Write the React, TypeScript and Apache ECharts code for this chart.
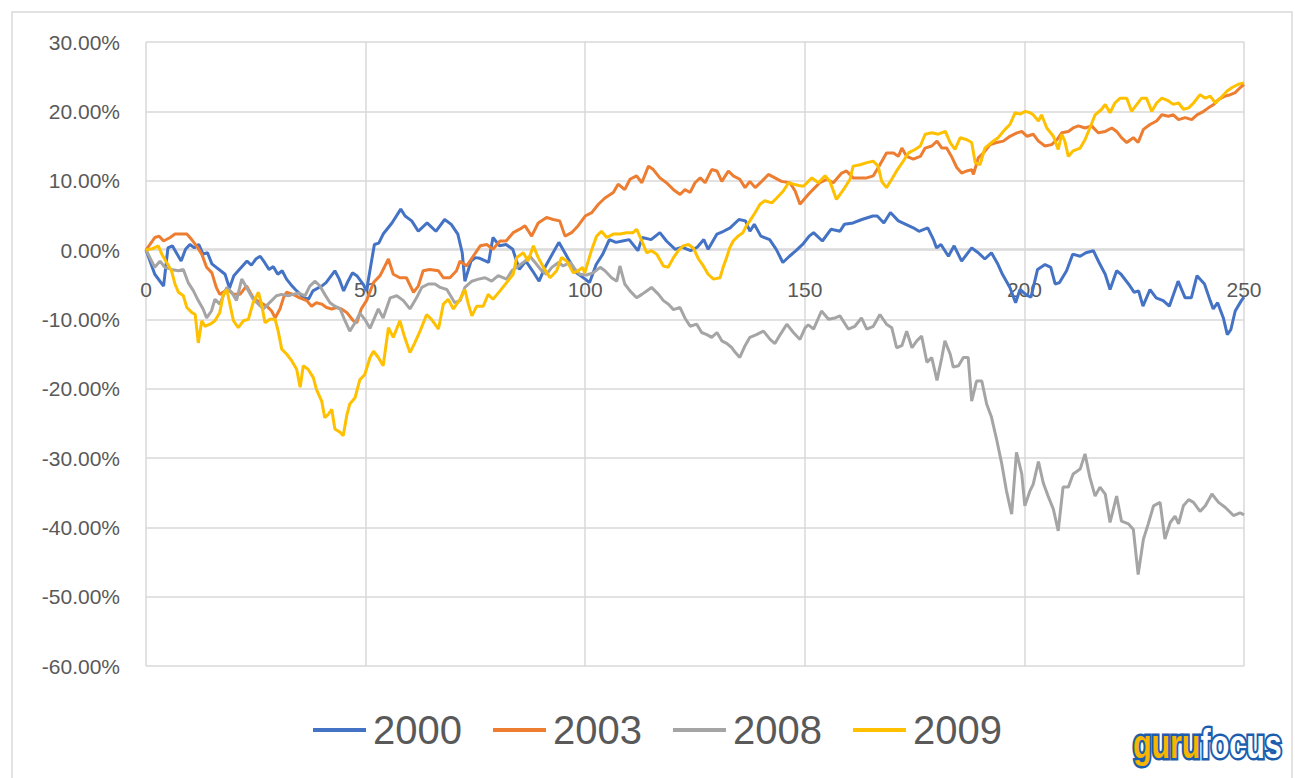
import React, { useEffect, useRef } from "react";
import * as echarts from "echarts";

const seriesNames = ["2000", "2003", "2008", "2009"];
const seriesColors = ["#4472C4", "#ED7D31", "#A5A5A5", "#FFC000"];
const xTicks = [0, 50, 100, 150, 200, 250];
const yTicks = [-60, -50, -40, -30, -20, -10, 0, 10, 20, 30];

const s2000: [number, number][] = [
  [0, 0], [2, -3.5], [4, -5.2], [5, 0.3], [6, 0.6], [8, -1.6], [9, 0.1], [10, 0.8], [11, 0.3], [12, 0.8], [13, -0.6], [14, -0.4],
  [15, -2], [16, -2.5], [17, -3], [18, -3.5], [19, -5.5], [20, -3.7], [21, -3], [23, -1.6], [24, -2.2], [25, -1.3], [26, -0.9],
  [27, -1.8], [28, -2.8], [29, -2.4], [30, -3.5], [31, -3], [32, -4.2], [33, -5], [34, -5.7], [36, -6.9], [37, -7.1], [38, -5.9],
  [40, -5.2], [41, -4.7], [43, -3], [44, -4.2], [45, -5.9], [46, -4.5], [47, -3.3], [48, -3.7], [49.5, -5], [50.2, -5.9],
  [52, 0.8], [53, 1], [54, 2.3], [56, 3.9], [58, 5.9], [59, 4.9], [60.5, 4.2], [62, 2.7], [64, 3.9], [66, 2.7], [68, 4.4],
  [69.5, 3.7], [71, 2.3], [72, -0.4], [72.6, -4.5], [74, -1.6], [75, -1.1], [76, -1.2], [78, -1.8], [79, 1.8], [80.5, 0.6],
  [82, 0.8], [83.5, 0.1], [85, -2.8], [86.5, -1.6], [88, -3], [89.5, -4.5], [91, -2.3], [94, 1.1], [96, -1.1], [98, -3.3],
  [100, -4.2], [101, -4.7], [102.5, -2.1], [104, -0.6], [105.5, 1.5], [107, 1.1], [108.5, 1.3], [110, 1.5], [112, -0.1],
  [113, 1.8], [115, 1.5], [117, 2.5], [118.5, 1.3], [120.5, 0.1], [122, 0.4], [124, -0.1], [125.5, 0.4], [127, 1.5], [128, 0.1],
  [130, 2.3], [131.5, 2.7], [133, 3.2], [135, 4.4], [136.5, 4.2], [137.5, 2.7], [138.5, 3.7], [140, 2], [142, 1.5], [143.5, 0.1],
  [145, -1.8], [146.5, -0.9], [148, -0.1], [149.5, 0.8], [151, 2], [152, 2.5], [154, 1.3], [156, 3], [158, 2.7], [159, 3.7],
  [161, 3.9], [163, 4.4], [165.5, 4.9], [166.5, 4.9], [168, 3.9], [169.5, 5.4], [171.3, 4.2], [173, 3.7], [174.7, 3.2], [176, 2.7],
  [178, 3.2], [179.3, 1.5], [180, 0.3], [181, 0.8], [182.7, -0.9], [184, 0.6], [185.7, -1.6], [188, 0.3], [189.5, -0.4],
  [191, -1.3], [192.5, -0.4], [194, -2.1], [195, -3.5], [196.7, -5.4], [198, -7.6], [199, -5.7], [200.5, -6.5], [201.5, -6.8],
  [203, -2.8], [204.7, -2.1], [206, -2.5], [207, -4.9], [208, -4.7], [209.6, -3], [211, -0.6], [212.7, -0.9], [214, -0.4],
  [215.7, -0.1], [217, -1.8], [218.4, -3.5], [219.5, -5.7], [221, -3], [222, -3.5], [223.7, -4.9], [225, -6.1], [226, -5.9],
  [227, -8.1], [228.6, -5.7], [230, -6.9], [231.6, -7.3], [233, -8.1], [235, -4.5], [236.6, -6.9], [238, -6.9], [239.3, -3.7],
  [241, -4.9], [242.3, -7.3], [243, -8.5], [244, -7.6], [245.3, -9.8], [246.2, -12.2], [247, -11.5], [248, -8.8], [249.4, -7.3],
  [250, -6.8],
];

const s2003: [number, number][] = [
  [0, 0], [2, 1.8], [3, 2], [4, 1.3], [5.5, 1.8], [6.6, 2.3], [8, 2.3], [9.3, 2.3], [10.4, 1.5], [11.5, 0.6], [12.7, -0.6],
  [13.8, -2.5], [15, -3.3], [16, -5.4], [16.8, -6.4], [18, -5.9], [18.7, -5.7], [19.9, -6.4], [21.4, -6.4], [22.9, -5.2],
  [24.4, -6.9], [26, -7.6], [27.5, -8.1], [28.6, -8.8], [29.4, -9.8], [30.5, -8.5], [31.3, -6.9], [32, -6.1], [33.5, -6.4],
  [35, -6.9], [36.6, -7.3], [37.7, -8.1], [38.8, -7.6], [40, -7.8], [41.1, -8.3], [42.3, -8.5], [43.4, -8.3], [44.5, -8.5],
  [45.7, -9], [47.2, -10.2], [48, -10.5], [49, -8.5], [50.2, -7.3], [51.8, -4.7], [53.3, -3.7], [55.2, -1.3], [56.3, -3.5],
  [57.8, -4], [59.3, -4], [60.9, -6.1], [62, -5.2], [63.1, -3], [64.6, -2.8], [66.6, -3], [67.7, -4], [69.2, -4], [70.7, -3],
  [71.5, -1.6], [73, -2.3], [74.5, -0.9], [76.1, 0.6], [77.6, 0.8], [79, 0.1], [80.6, 1.3], [82, 1.3], [83.6, 2.5], [85.1, 3],
  [86.3, 3.5], [87.8, 2], [89.3, 3.9], [91.2, 4.7], [92.7, 4.4], [94.2, 4.2], [95.4, 2], [96.9, 2.5], [98.4, 3.5], [100, 4.9],
  [101.5, 5.4], [103, 6.6], [104.5, 7.5], [106.4, 8.3], [107.5, 9.5], [109, 8.7], [110.2, 10.2], [111.7, 10.7], [112.9, 9.7],
  [114.4, 12.1], [115.5, 11.6], [117, 10.4], [118.5, 9.7], [120.1, 8.7], [121.6, 8], [122.7, 8.7], [123.9, 8.3], [125, 9.7],
  [126.2, 10.4], [127.3, 9.7], [128.8, 11.6], [130, 11.4], [131.1, 9.9], [132.6, 11.4], [133.7, 10.7], [135.2, 10.2],
  [136.4, 9], [137.5, 9.9], [138.7, 9], [140.2, 9.9], [141.7, 10.9], [143.2, 10.4], [144.7, 9.9], [146.6, 9.7], [147.8, 8.5],
  [148.9, 6.6], [150.1, 7.5], [151.2, 8.3], [152.3, 9], [153.4, 9.7], [155, 10.2], [156.5, 9.7], [158.4, 11.1], [159.5, 11.4],
  [161, 10.4], [162.6, 10.4], [164.1, 10.4], [165.6, 10.7], [167.1, 12.3], [168.6, 14], [170.2, 14], [171.3, 13.5],
  [172.1, 14.7], [173.2, 13.5], [174.7, 13.1], [176.3, 13.5], [177.4, 14.7], [178.9, 15], [180.1, 15.7], [181.2, 14.7],
  [182.3, 14.7], [183.4, 13.5], [184.6, 11.9], [185.7, 11.1], [186.9, 11.4], [188, 11.6], [188.4, 10.9], [189.5, 13.3],
  [190.7, 14], [192.2, 15.2], [193.7, 15.5], [195.2, 15.7], [196.7, 16.4], [198.3, 16.9], [199.4, 17.1], [200.6, 16.4],
  [202, 16.7], [203.2, 15.7], [204.7, 15], [206.2, 15.2], [207.4, 15.9], [208.5, 16.9], [210, 17.1], [211.1, 17.6],
  [212.3, 17.9], [213.8, 17.6], [215.3, 17.9], [216.8, 16.9], [218.4, 17.1], [219.9, 17.6], [221, 17.1], [222.1, 16.2],
  [223.3, 15.5], [224.8, 16.2], [225.9, 15.5], [227.1, 17.4], [228.6, 18.1], [230.1, 18.6], [231.3, 19.5], [232.8, 19.3],
  [233.9, 19.5], [235.1, 18.8], [236.6, 19.1], [238.1, 18.8], [239.3, 19.5], [240.8, 20], [241.9, 20.5], [243.1, 21],
  [244.2, 21.7], [245.7, 22.2], [246.9, 22.4], [248, 22.7], [249.1, 23.4], [250, 23.9],
];

const s2008: [number, number][] = [
  [0, 0], [2, -2.5], [3.2, -1.6], [4.3, -2.5], [5.8, -2.8], [7.4, -3], [8.5, -2.8], [9.6, -4.7], [10.8, -5.9], [11.9, -7.3],
  [13, -8.5], [13.8, -9.8], [14.9, -8.8], [15.7, -7.1], [16.8, -7.8], [18.4, -5.4], [19.5, -6.1], [20.6, -7.3], [21.8, -4.2],
  [22.9, -5.4], [24.4, -7.1], [25.6, -7.8], [26.7, -8.5], [27.8, -7.8], [28.6, -7.3], [29.7, -6.6], [30.9, -6.4], [32.4, -6.6],
  [33.5, -6.4], [34.7, -6.2], [36.2, -6.6], [37.3, -5.2], [38.5, -4.5], [39.6, -5.2], [40.7, -6.4], [41.9, -7.6], [43, -8.1],
  [44.2, -8.5], [45.3, -10.2], [46.4, -11.7], [47.6, -10.5], [48.7, -9.1], [49.8, -10], [51, -11.3], [52.9, -8.5], [54, -9.8],
  [55.6, -6.9], [57.1, -6.6], [58.6, -7.3], [60.1, -8.5], [61.6, -6.9], [62.8, -5.4], [64.3, -4.9], [65.8, -4.9], [67, -5.4],
  [68.5, -5.7], [70.3, -7.6], [71.5, -7.3], [72.6, -5.4], [74.2, -4.5], [75.7, -4.2], [77.2, -4], [78.7, -4.5], [80.2, -3.7],
  [82.1, -4.2], [83.3, -3], [84.8, -2.3], [86.3, -1.6], [87.4, -0.9], [88.6, -1.8], [90.1, -3], [91.2, -3.5], [92.4, -2.5],
  [93.9, -1.8], [95, -2.3], [96.6, -1.8], [97.7, -2.8], [98.8, -3.5], [100.3, -3.6], [101.8, -3.3], [103.4, -2.5], [104.5, -3],
  [106, -4], [107.2, -4.5], [107.9, -2.3], [109, -4.9], [110.2, -5.9], [111.7, -6.9], [112.9, -6.4], [114, -5.9], [115.1, -5.4],
  [116.7, -6.4], [117.8, -7.3], [118.9, -7.8], [120.1, -8.6], [121.6, -8.3], [122.7, -9.8], [123.9, -11], [125.4, -10.7],
  [126.5, -11.9], [127.7, -12.2], [128.8, -12.6], [130, -11.9], [131.1, -13.1], [132.3, -13.5], [133.4, -14.1], [134.2, -14.8],
  [135.2, -15.5], [136.4, -13.8], [137.5, -12.6], [139, -12.2], [140.6, -11.7], [142.1, -12.9], [143.2, -13.5], [144.4, -12.2],
  [145.9, -10.7], [147.4, -11.9], [148.9, -12.9], [150.1, -11.2], [150.8, -10.8], [152, -11.4], [153.8, -8.8], [155.4, -10],
  [156.9, -9.8], [158, -9.5], [159.9, -11.4], [161.4, -11], [162.9, -9.8], [164.1, -11.4], [165.6, -11], [167.1, -9.3],
  [168.6, -10.7], [169.8, -11.2], [170.9, -14.1], [172.1, -13.8], [173.2, -11.7], [174.4, -14.1], [175.5, -13.1],
  [176.6, -12.4], [177.8, -16.2], [178.9, -15.5], [180.1, -18.8], [181.2, -15.5], [181.9, -13.1], [183.1, -15], [183.8, -16.9],
  [185, -16.7], [186.1, -15.5], [187.2, -15.5], [188, -21.8], [189.1, -18.9], [190.3, -18.9], [191.4, -22.2], [192.5, -24.1],
  [193.7, -27.4], [194.8, -30.7], [195.9, -34.7], [197.1, -38.1], [198.2, -29.2], [199.4, -32.3], [200.1, -36.9],
  [201.3, -34.7], [202, -33.8], [203.2, -30.5], [204.3, -33.6], [205.4, -35.5], [206.6, -37.4], [207.7, -40.5], [208.8, -34.2],
  [210, -34.2], [211.1, -32.3], [212.7, -31.6], [213.8, -29.4], [214.9, -32.8], [216.1, -35.5], [217.2, -34.2], [218.4, -35.2],
  [219.5, -39.3], [221, -35.5], [222.1, -39.1], [223.7, -39.5], [224.8, -40.3], [225.9, -46.8], [227.1, -41.7], [228.2, -39.5],
  [229.4, -36.9], [230.9, -36.4], [232, -41.7], [233.2, -39.3], [234.3, -38.4], [235.1, -39.5], [236.2, -36.9], [237.4, -36],
  [238.5, -36.4], [240, -37.7], [241.2, -36.9], [242.7, -35.2], [244.2, -36.4], [245.7, -37.1], [247.6, -38.3], [249.1, -37.9],
  [250, -38.2],
];

const s2009: [number, number][] = [
  [0, 0], [1.5, 0.2], [2.8, 0.6], [3.6, -0.6], [4.7, -1.8], [5.8, -3], [6.6, -4.9], [7.4, -6.1], [8.5, -6.6], [9.3, -8.3],
  [10.4, -9], [11.2, -9.3], [11.9, -13.4], [12.7, -10.2], [13.4, -11], [14.6, -10.7], [15.7, -10.2], [16.8, -9], [17.6, -6.4],
  [18.4, -5.7], [19.1, -7.8], [19.9, -10.2], [21, -11.2], [22.2, -10.2], [23.3, -10], [24.4, -7.6], [25.6, -6.1], [26.3, -7.8],
  [27.1, -10.5], [28.2, -10], [29.4, -10], [30.1, -11.7], [30.9, -14.3], [32, -15], [33.2, -16], [34.3, -17.2], [35.1, -19.8],
  [35.8, -16.7], [36.9, -17.2], [38.1, -18.4], [38.8, -20.1], [40, -21.8], [40.7, -24.2], [41.5, -23.7], [42.3, -23],
  [43, -25.8], [44.2, -26.3], [44.9, -26.8], [45.7, -23.9], [46.4, -22.2], [47.6, -21.3], [48.7, -18.7], [49.8, -18],
  [51, -15.5], [51.8, -14.6], [52.9, -15.5], [54, -16.7], [55.2, -11.2], [56.3, -12.6], [57.8, -10.2], [58.9, -12.6],
  [60.1, -14.8], [61.2, -13.4], [62.4, -11.7], [63.9, -9.3], [65, -10], [66.6, -11.4], [67.7, -7.8], [68.8, -7.1], [70, -8.5],
  [71.5, -7.1], [72.6, -5.7], [73.4, -7.8], [74.2, -9.5], [75.3, -8.1], [76.8, -8.1], [77.9, -6.4], [79, -7.1], [80.6, -5.9],
  [82.1, -4.7], [83.6, -3.5], [84.4, -1.1], [85.9, -0.4], [87, -1.6], [88.2, 0.6], [89.3, -1.1], [90.5, -2.5], [92, -4],
  [93.5, -3], [94.6, -1.1], [95.8, -1.6], [97.3, -3.3], [98.4, -3], [99.4, -2.5], [99.9, -3.3], [101.4, -0.1], [102.6, 2],
  [103.7, 2.7], [104.9, 1.8], [106.4, 2.3], [107.9, 2.3], [109.4, 2.5], [110.9, 2.5], [111.7, 3], [112.9, 1.3], [114, -0.4],
  [115.1, -0.1], [116.3, -0.6], [117.8, -2.3], [118.9, -2.5], [120.1, -1.1], [121.2, -0.1], [122.3, 0.6], [123.5, 0.8],
  [124.6, 0.3], [125.8, -1.3], [126.9, -2.3], [128, -3.5], [129.2, -4.2], [130.7, -4], [131.4, -2.5], [132.2, -1.1],
  [132.9, 0.3], [133.7, 1.3], [134.8, 2], [135.9, 2.5], [136.7, 3.5], [137.5, 4.2], [138.7, 5.4], [139.8, 6.6], [140.9, 7.1],
  [142.5, 6.8], [143.6, 7.5], [145.1, 8.5], [146.3, 9.7], [147.4, 9.5], [148.6, 9.3], [149.7, 9.2], [151.6, 10.4],
  [153.1, 9.7], [154.6, 10.7], [155.7, 9.9], [157.2, 7.3], [158.8, 8.7], [160.3, 10.2], [161, 12.1], [162.6, 12.3],
  [164.1, 12.6], [165.6, 12.8], [166.7, 12.1], [167.5, 9.9], [168.6, 9], [169.8, 10.2], [170.9, 11.4], [172.4, 12.8],
  [173.6, 14], [175.1, 14.5], [176.3, 15], [177.4, 16.7], [178.9, 16.9], [180.4, 16.7], [182, 17.1], [183.1, 15.5],
  [184.2, 14.5], [185.4, 16.2], [186.9, 15.9], [188, 15.5], [188.8, 12.6], [189.9, 12.3], [191, 14.7], [192.5, 15.5],
  [194, 16.2], [195.6, 17.4], [196.7, 18.1], [197.9, 19.8], [199, 19.6], [200.2, 20], [201.3, 19.8], [202, 19.5],
  [203.2, 18.6], [203.9, 19.5], [205.1, 17.6], [206.6, 16.4], [207.7, 14.5], [208.5, 16.7], [209.2, 15.7], [210, 13.5],
  [211.1, 14.3], [212.7, 14.7], [213.8, 15.9], [214.9, 17.6], [216.1, 19.5], [217.6, 20.3], [218.4, 21], [219.5, 19.8],
  [220.6, 21.2], [221.8, 21.9], [223.3, 21.9], [224.4, 20], [225.6, 21], [226.7, 21.9], [227.8, 21.9], [229, 20],
  [230.1, 21.2], [231.3, 21.9], [232.8, 21.5], [233.9, 21], [235.1, 21.2], [236.2, 20.3], [237.4, 20.5], [238.5, 21.2],
  [240, 22.4], [241.2, 21.9], [242.3, 22.2], [243.5, 21.2], [244.6, 21.9], [246.1, 22.9], [247.2, 23.4], [248.7, 23.9],
  [250, 24.1],
];

const allSeries = [s2000, s2003, s2008, s2009];
const FONT = "'Liberation Sans', Arial, sans-serif";

export default function App() {
  const ref = useRef<HTMLDivElement>(null);
  useEffect(() => {
    if (!ref.current) return;
    const chart = echarts.init(ref.current, undefined, { renderer: "svg" });
    const option: any = {
      animation: false,
      backgroundColor: "#ffffff",
      grid: { left: 146, right: 51, top: 42, bottom: 112, containLabel: false },
      xAxis: {
        type: "value",
        min: xTicks[0],
        max: xTicks[xTicks.length - 1],
        interval: 50,
        offset: -417,
        axisLine: { show: true, onZero: false, lineStyle: { color: "#d9d9d9", width: 1.5 } },
        axisTick: { show: false },
        axisLabel: { color: "#595959", fontSize: 21, fontFamily: FONT, margin: 30 },
        splitLine: { show: true, lineStyle: { color: "#d9d9d9", width: 1.5 } },
      },
      yAxis: {
        type: "value",
        min: yTicks[0],
        max: yTicks[yTicks.length - 1],
        interval: 10,
        axisLine: { show: false },
        axisTick: { show: false },
        axisLabel: {
          color: "#595959",
          fontSize: 21,
          fontFamily: FONT,
          margin: 26,
          formatter: (v: number) => v.toFixed(2) + "%",
        },
        splitLine: { show: true, lineStyle: { color: "#d9d9d9", width: 1.5 } },
      },
      legend: {
        left: 308,
        top: 705,
        icon: "rect",
        itemWidth: 53,
        itemHeight: 4,
        itemGap: 31,
        textStyle: { color: "#595959", fontSize: 40, fontFamily: FONT, padding: [0, 0, 0, 2] },
        data: seriesNames,
      },
      graphic: [
        {
          type: "rect",
          silent: true,
          shape: { x: 12, y: 12, width: 1280, height: 800 },
          style: { fill: "none", stroke: "#d9d9d9", lineWidth: 1.5 },
          z: -1,
        },
        {
          type: "group",
          left: 1131,
          top: 722,
          scaleX: 0.76,
          children: [
            {
              type: "text",
              x: 0,
              y: 0,
              style: {
                text: "guru",
                fill: "#F7B500",
                stroke: "#1C5DAE",
                lineWidth: 5,
                font: "bold 40px 'Liberation Sans', Arial, sans-serif",
              },
            },
            {
              type: "text",
              x: 89,
              y: 0,
              style: {
                text: "focus",
                fill: "#ffffff",
                stroke: "#1C5DAE",
                lineWidth: 5,
                font: "bold 40px 'Liberation Sans', Arial, sans-serif",
              },
            },
          ],
        },
      ],
      series: allSeries.map((d, k) => ({
        name: seriesNames[k],
        type: "line",
        data: d,
        showSymbol: false,
        symbol: "none",
        smooth: false,
        lineStyle: { color: seriesColors[k], width: 3 },
        itemStyle: { color: seriesColors[k] },
        z: 2 + k,
      })),
    };
    chart.setOption(option);
    return () => chart.dispose();
  }, []);
  return (
    <div
      ref={ref}
      style={{ position: "fixed", left: 0, top: 0, width: 1295, height: 778 }}
    />
  );
}
